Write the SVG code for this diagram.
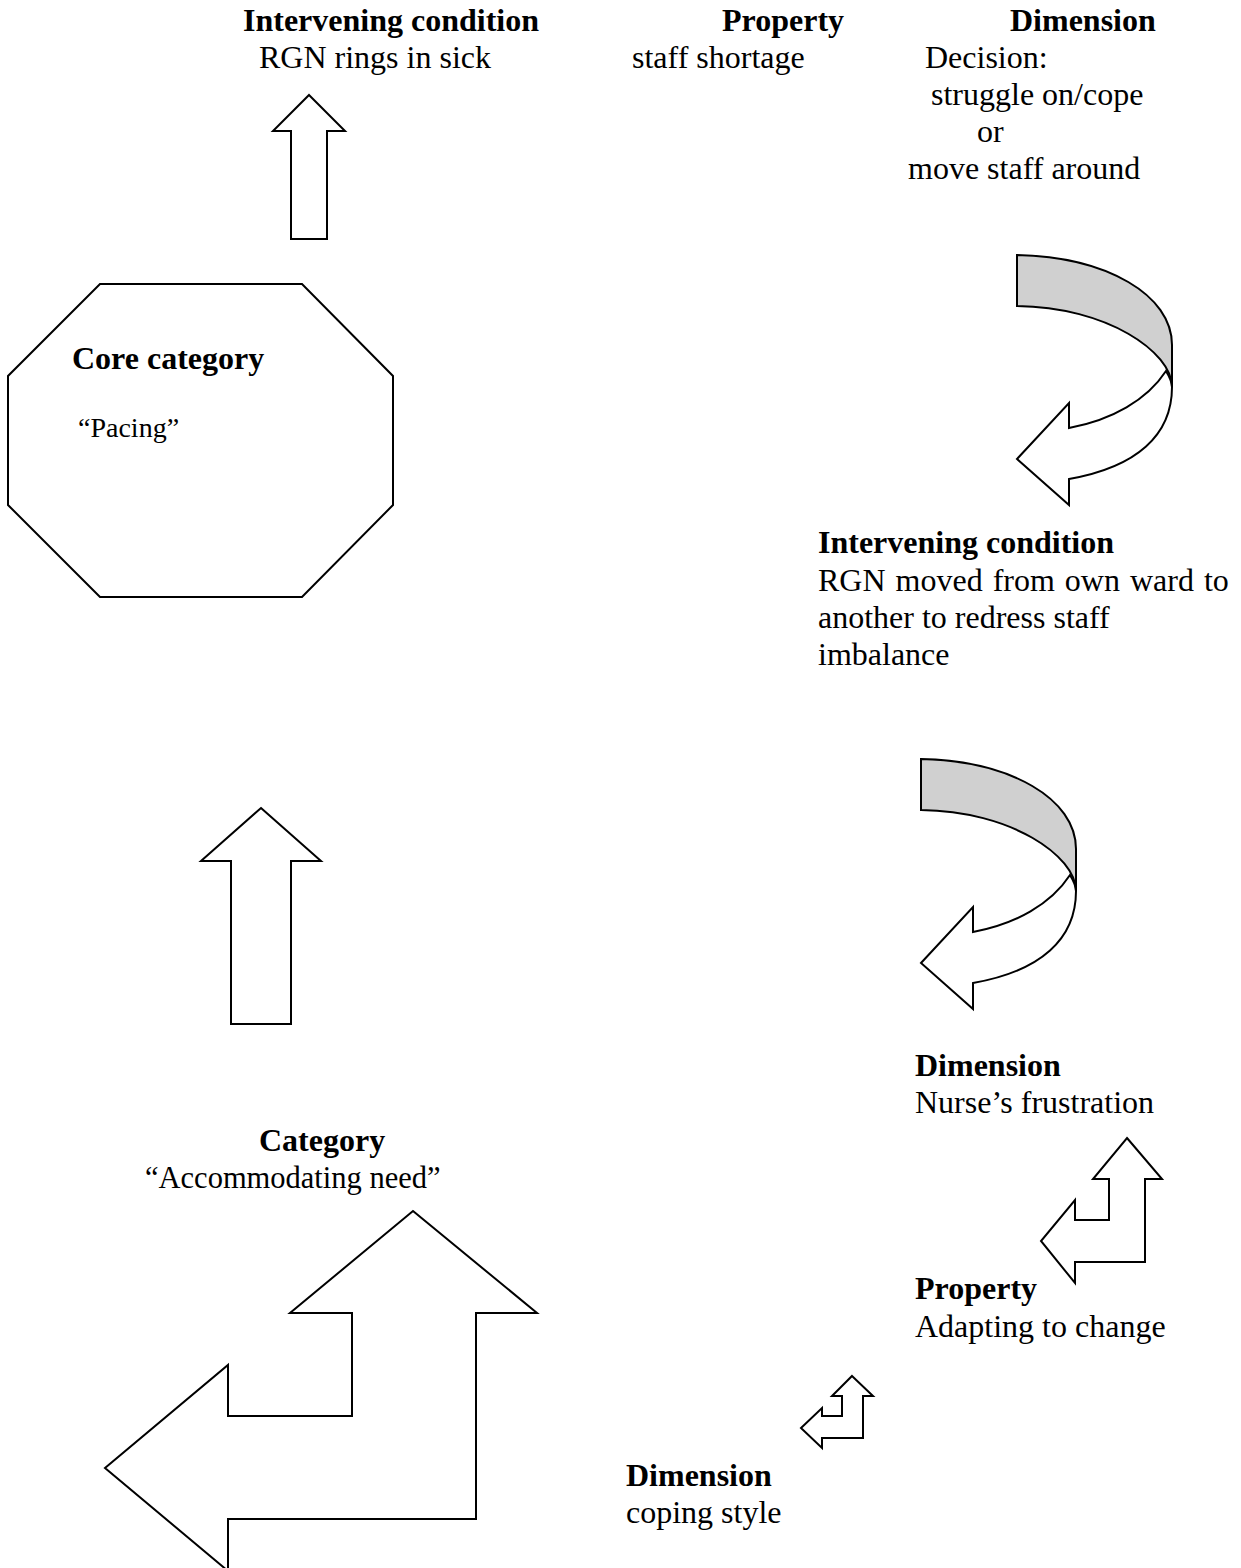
<svg xmlns="http://www.w3.org/2000/svg" xmlns:xlink="http://www.w3.org/1999/xlink" width="1241" height="1568" viewBox="0 0 1241 1568">
<style>
.t{font-family:"Liberation Serif","Times New Roman",serif;font-size:32px;fill:#000}
.b{font-weight:bold}
.s{fill:#fff;stroke:#000;stroke-width:2;stroke-linejoin:miter}
.g{fill:#d0d0d0;stroke:#000;stroke-width:2}
</style>
<defs>
<g id="curved">
<path class="s" d="M149,116 C130,145 95,165 52,173 L52,148 L0,204 L52,250 L52,224 C120,212 155,180 155,132 C155,126 152,121 149,116 Z"/>
<path class="g" d="M0,0 C90,2 155,40 155,90 L155,132 C155,97 90,52 0,51 Z"/>
</g>
</defs>
<rect width="1241" height="1568" fill="#fff"/>
<g id="connectors">
<polygon id="arrow-up-top" class="s" points="309,95 345,131 327,131 327,239 291,239 291,131 273,131"/>
<polygon id="arrow-up-mid" class="s" points="261,808 321,861 291,861 291,1024 231,1024 231,861 201,861"/>
<use id="curved-1" xlink:href="#curved" transform="translate(1017,255)"/>
<use id="curved-2" xlink:href="#curved" transform="translate(921,759)"/>
<polygon id="bent-small-1" class="s" points="1127,1138 1162,1179 1145,1179 1145,1262 1075,1262 1075,1283 1041,1241 1075,1200 1075,1220 1109,1220 1109,1179 1093,1179"/>
<polygon id="bent-small-2" class="s" points="852,1376 873,1396 863,1396 863,1438 822,1438 822,1448 801,1428 822,1408 822,1416 842,1416 842,1396 832,1396"/>
<polygon id="bent-large" class="s" points="413,1211 537,1313 476,1313 476,1519 228,1519 228,1571 105,1468 228,1365 228,1416 352,1416 352,1313 290,1313"/>
</g>
<g id="core">
<polygon class="s" points="100,284 302,284 393,376 393,505 302,597 100,597 8,505 8,376"/>
<text class="t b" x="72" y="369">Core category</text>
<text class="t" x="78" y="437" style="font-size:28px">“Pacing”</text>
</g>
<g id="intervening-1">
<text class="t b" x="243" y="31">Intervening condition</text>
<text class="t" x="259" y="68">RGN rings in sick</text>
</g>
<g id="property-1">
<text class="t b" x="722" y="31">Property</text>
<text class="t" x="632" y="68">staff shortage</text>
</g>
<g id="dimension-1">
<text class="t b" x="1010" y="31">Dimension</text>
<text class="t" x="925" y="68">Decision:</text>
<text class="t" x="931" y="105">struggle on/cope</text>
<text class="t" x="977" y="142">or</text>
<text class="t" x="908" y="179">move staff around</text>
</g>
<g id="intervening-2">
<text class="t b" x="818" y="553">Intervening condition</text>
<text class="t" x="818" y="591" word-spacing="2">RGN moved from own ward to</text>
<text class="t" x="818" y="628">another to redress staff</text>
<text class="t" x="818" y="665">imbalance</text>
</g>
<g id="dimension-2">
<text class="t b" x="915" y="1076">Dimension</text>
<text class="t" x="915" y="1113">Nurse’s frustration</text>
</g>
<g id="property-2">
<text class="t b" x="915" y="1299">Property</text>
<text class="t" x="915" y="1337">Adapting to change</text>
</g>
<g id="dimension-3">
<text class="t b" x="626" y="1486">Dimension</text>
<text class="t" x="626" y="1523">coping style</text>
</g>
<g id="category">
<text class="t b" x="259" y="1151">Category</text>
<text class="t" x="145" y="1188" style="font-size:30.5px">“Accommodating need”</text>
</g>
</svg>
